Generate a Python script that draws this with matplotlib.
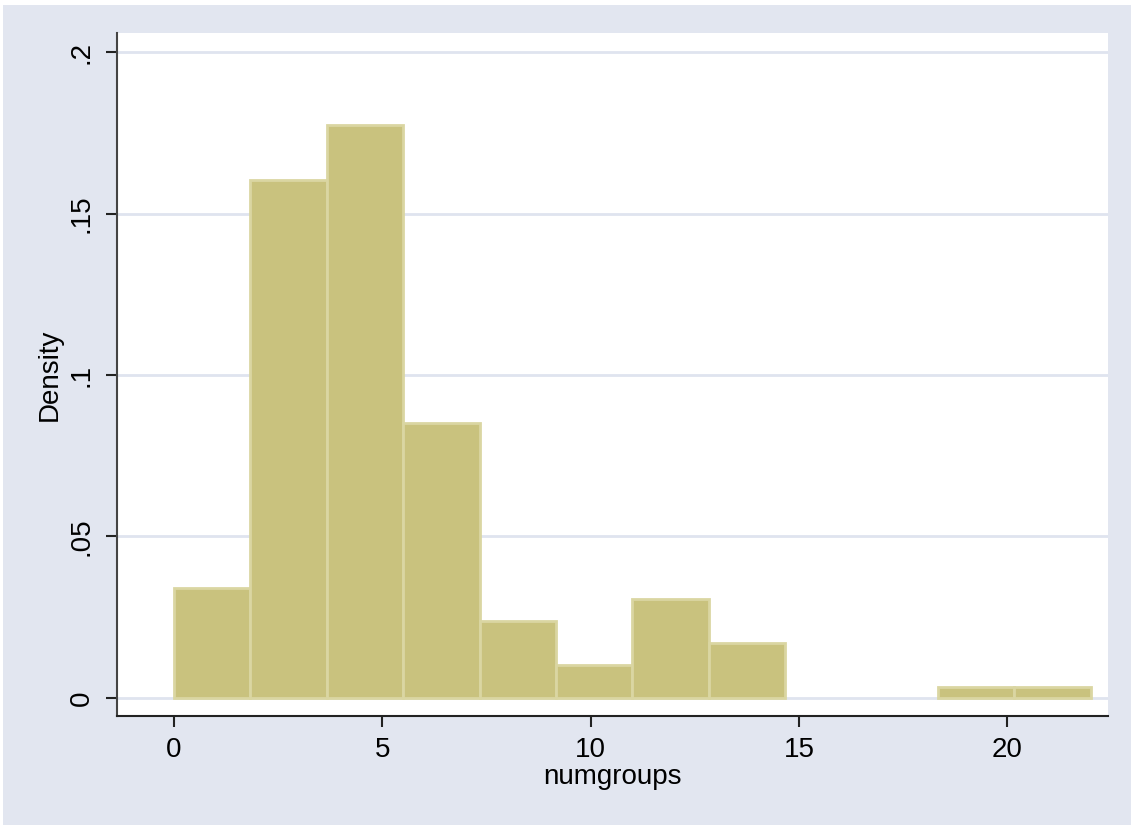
import numpy as np
import matplotlib
matplotlib.use("Agg")
import matplotlib.pyplot as plt
from matplotlib.patches import Rectangle

# histogram of numgroups: 12 bins from 0 to 22, counts
bin_lo = 0
bin_hi = 22
counts = [10, 47, 52, 25, 7, 3, 9, 5, 0, 0, 1, 1]
yticks = [0, 0.05, 0.1, 0.15, 0.2]
ytick_labels = ["0", ".05", ".1", ".15", ".2"]
xticks = [0, 5, 10, 15, 20]

bg = "#E2E6F0"
bar_fill = "#C9C27E"
bar_edge = "#DAD6A2"

plt.rcParams["font.family"] = ["Liberation Sans", "DejaVu Sans"]

edges = np.linspace(bin_lo, bin_hi, len(counts) + 1)
width = edges[1] - edges[0]
density = np.array(counts) / (sum(counts) * width)
keep = np.array(counts) > 0  # empty bins draw nothing

fig = plt.figure(figsize=(11.31, 8.25), dpi=100)
fig.patches.append(Rectangle((3 / 1131, 0), 1, 820 / 825, transform=fig.transFigure,
                             facecolor=bg, edgecolor="none", zorder=-10))

ax = fig.add_axes([117 / 1131, 109 / 825, 991 / 1131, 683 / 825])
ax.set_facecolor("white")

for y in yticks:
    ax.axhline(y, color="#DFE4EF", lw=2, zorder=0)

ax.bar(edges[:-1][keep], density[keep], width=width, align="edge", color=bar_fill,
       edgecolor=bar_edge, linewidth=2, zorder=2)

ax.set_xlim(-1.37, 22.42)
ax.set_ylim(-0.0056, 0.2059)

ax.set_xticks(xticks)
ax.set_yticks(yticks)
ax.set_yticklabels(ytick_labels, rotation=90, va="center")
ax.tick_params(axis="both", labelsize=20, length=8, width=1.5, color="#222222")
ax.tick_params(axis="x", pad=7)
ax.tick_params(axis="y", pad=8)

for s in ["top", "right"]:
    ax.spines[s].set_visible(False)
ax.spines["left"].set_color("#444444")
ax.spines["left"].set_linewidth(1.5)
ax.spines["bottom"].set_color("#222222")
ax.spines["bottom"].set_linewidth(1.5)

ax.set_xlabel("numgroups", fontsize=20, labelpad=1)
ax.set_ylabel("Density", fontsize=20, labelpad=4)

fig.savefig("out.png", dpi=100, facecolor="white")
